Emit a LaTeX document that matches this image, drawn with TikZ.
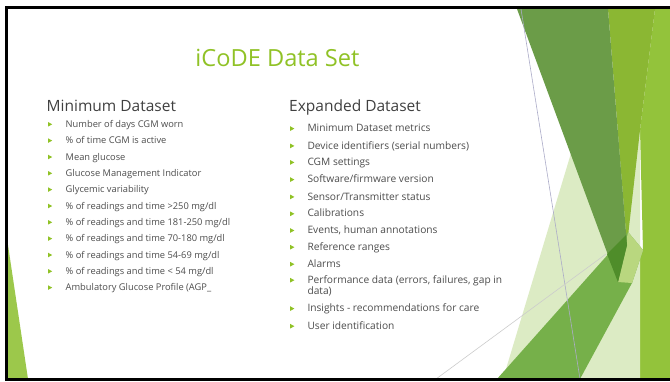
\documentclass[tikz,border=0pt]{standalone}
\usepackage{fontspec}
\setmainfont{Open Sans}
\begin{document}
\begin{tikzpicture}
		[x=1pt,y=-1pt,
		 title/.style={anchor=base,inner sep=0pt,text=accent,font=\fontsize{23.6}{25}\selectfont},
		 heading/.style={anchor=base west,inner sep=0pt,text=headgray,font=\fontsize{15.5}{16}\selectfont},
		 item/.style={anchor=base west,inner sep=0pt,text=bodygray,font=\fontsize{9.3}{10}\selectfont},
		 bullet/.style={fill=accent}]

        \definecolor{accent}{HTML}{90C226}
        \definecolor{headgray}{HTML}{404040}
        \definecolor{bodygray}{HTML}{4D4D4D}
        \definecolor{G1}{HTML}{93C33B}
        \definecolor{G2}{HTML}{8BB733}
        \definecolor{G3}{HTML}{6B9C48}
        \definecolor{G4}{HTML}{DCEBC4}
        \definecolor{G5}{HTML}{76B04A}
        \definecolor{G6}{HTML}{B9D77F}
        \definecolor{G7}{HTML}{4F8D2A}
        \definecolor{G8}{HTML}{9CC84B}
        \definecolor{thinline}{RGB}{172,172,200}

        \useasboundingbox (0,0) rectangle (670,381);
        \clip (0,0) rectangle (670,381);
        \fill[white] (0,0) rectangle (670,381);

        % facets on the right
        \fill[G1] (655,9) -- (690,9) -- (690,379) -- (580,379) -- (632,283) -- (643,250) -- (640,130) -- cycle;
        \fill[G4] (578,130) -- (503,379) -- (640,379) -- (640,130) -- cycle;
        \fill[G2] (608,9) -- (655,9) -- (640,130) -- (627,245) -- cycle;
        \fill[G5] (497,379) -- (628,232) -- (643,250) -- (632,283) -- (580,379) -- cycle;
        \fill[G6] (628,232) -- (643,250) -- (632,283) -- (618,282) -- cycle;
        \fill[G3] (517,9) -- (608,9) -- (627,245) -- (618,282) -- cycle;
        \fill[G7] (607,254) -- (626,235) -- (627,245) -- (618,282) -- cycle;

        \coordinate (L1a) at (521,9);
        \coordinate (L1b) at (580,379);
        \coordinate (L2a) at (436,379);
        \coordinate (L2b) at (606,254);
        \draw[line width=0.6pt,color=thinline] (L1a) -- (L1b);
        \draw[line width=0.6pt,color=black!20] (L2a) -- (L2b);

        % facet on the left
        \fill[G8] (5,225) -- (28,379) -- (5,379) -- cycle;

        \draw[line width=3pt] (6,7.5) rectangle (700,379);

        \node[title] (title) at (277.5,66) {iCoDE Data Set};

        \node[heading] (minhead) at (46.5,111.7) {Minimum Dataset};
        \node[heading] (exphead) at (289,111.7) {Expanded Dataset};

        \foreach \n/\y/\txt in {1/127.3/{Number of days CGM worn},
                                2/143.6/{\% of time CGM is active},
                                3/160.0/{Mean glucose},
                                4/176.3/{Glucose Management Indicator},
                                5/192.6/{Glycemic variability},
                                6/209.0/{\% of readings and time >250 mg/dl},
                                7/225.3/{\% of readings and time 181-250 mg/dl},
                                8/241.6/{\% of readings and time 70-180 mg/dl},
                                9/258.0/{\% of readings and time 54-69 mg/dl},
                                10/274.3/{\% of readings and time < 54 mg/dl},
                                11/290.6/{Ambulatory Glucose Profile (AGP\_}} {
            \fill[bullet] (48,\y-5.3) -- ++(4.2,2.3) -- ++(-4.2,2.3) -- cycle;
            \node[item] (min\n) at (65.5,\y) {\txt};
        }

        \foreach \n/\y/\txt in {1/131.7/{Minimum Dataset metrics},
                                2/149.0/{Device identifiers (serial numbers)},
                                3/165.5/{CGM settings},
                                4/182.7/{Software/firmware version},
                                5/200.0/{Sensor/Transmitter status},
                                6/216.9/{Calibrations},
                                7/233.6/{Events, human annotations},
                                8/250.3/{Reference ranges},
                                9/267.3/{Alarms},
                                10/283.3/{\vtop{\baselineskip=10pt\hbox{Performance data (errors, failures, gap in}\hbox{data)}}},
                                11/311.7/{Insights - recommendations for care},
                                12/329.3/{User identification}} {
            \fill[bullet] (290,\y-5.5) -- ++(4.4,2.4) -- ++(-4.4,2.4) -- cycle;
            \node[item,font=\fontsize{10.2}{10}\selectfont] (exp\n) at (307.3,\y) {\txt};
        }

    \end{tikzpicture}
\end{document}
